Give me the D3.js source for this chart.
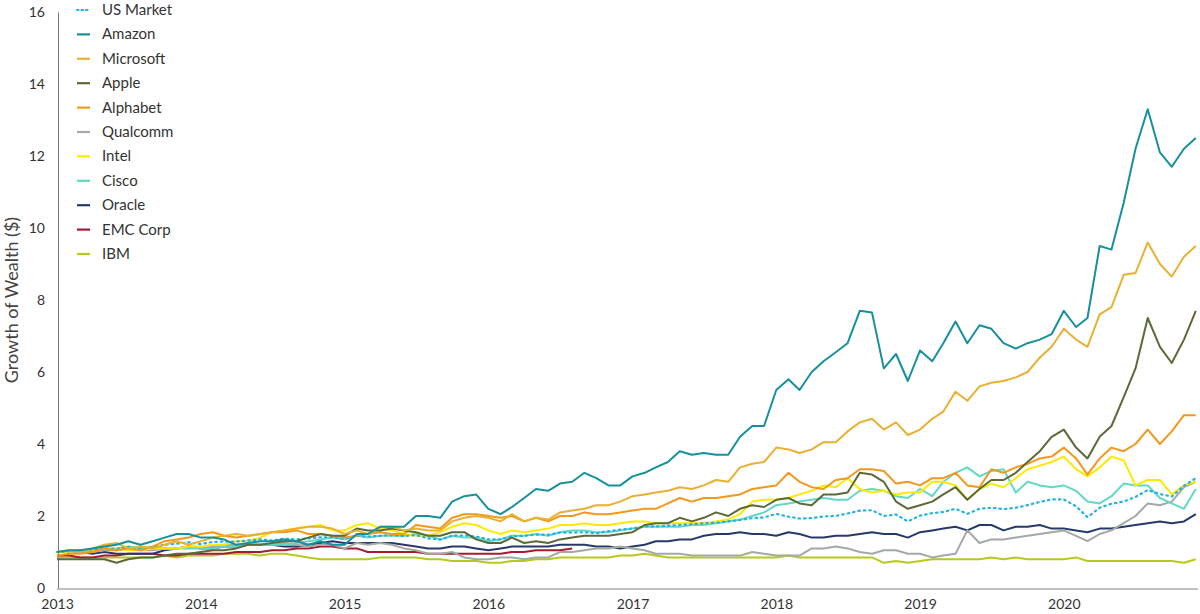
<!DOCTYPE html><html><head><meta charset="utf-8">
<script src="https://cdn.jsdelivr.net/npm/d3@7"></script>
<style>body{margin:0;background:#fff}svg{font-family:Lato,"Open Sans",sans-serif}</style></head><body>
<svg id="c" width="1200" height="614"></svg>
<script>
const yearTicks=[2013,2014,2015,2016,2017,2018,2019,2020];
const yTicks=[0,2,4,6,8,10,12,14,16];
const seriesNames=["US Market","Amazon","Microsoft","Apple","Alphabet","Qualcomm","Intel","Cisco","Oracle","EMC Corp","IBM"];
const seriesColors=["#22b4e3","#17909e","#e9b132","#5b6a37","#f3981c","#a3aaa3","#ffe900","#62d8c6","#263a6a","#a51c30","#b7c91d"];
const usMarket=[1.0,1.02,1.05,1.07,1.1,1.08,1.14,1.1,1.14,1.2,1.23,1.27,1.22,1.28,1.29,1.29,1.32,1.35,1.32,1.37,1.35,1.38,1.41,1.41,1.37,1.45,1.43,1.45,1.47,1.44,1.47,1.38,1.34,1.45,1.46,1.43,1.35,1.35,1.44,1.45,1.48,1.48,1.54,1.54,1.55,1.52,1.58,1.62,1.65,1.71,1.71,1.73,1.75,1.77,1.8,1.81,1.85,1.89,1.94,1.96,2.06,1.98,1.93,1.94,1.99,2.0,2.07,2.15,2.16,2.0,2.04,1.85,2.01,2.08,2.11,2.2,2.06,2.2,2.23,2.19,2.23,2.3,2.39,2.46,2.46,2.27,1.97,2.23,2.34,2.4,2.53,2.72,2.61,2.54,2.84,3.05];
const amazon=[1.0,1.05,1.05,1.1,1.15,1.2,1.3,1.2,1.3,1.4,1.5,1.5,1.4,1.4,1.35,1.2,1.25,1.3,1.3,1.35,1.3,1.2,1.3,1.2,1.2,1.5,1.5,1.7,1.7,1.7,2.0,2.0,1.95,2.4,2.55,2.6,2.2,2.05,2.25,2.5,2.75,2.7,2.9,2.95,3.2,3.05,2.85,2.85,3.1,3.2,3.35,3.5,3.8,3.7,3.75,3.7,3.7,4.2,4.5,4.5,5.5,5.8,5.5,6.0,6.3,6.55,6.8,7.7,7.65,6.1,6.5,5.75,6.6,6.3,6.8,7.4,6.8,7.3,7.2,6.8,6.65,6.8,6.9,7.05,7.7,7.25,7.5,9.5,9.4,10.7,12.2,13.3,12.1,11.7,12.2,12.5];
const microsoft=[1.0,1.05,1.0,1.1,1.2,1.25,1.1,1.15,1.1,1.2,1.3,1.2,1.3,1.4,1.45,1.5,1.45,1.5,1.55,1.6,1.65,1.7,1.7,1.65,1.5,1.6,1.5,1.7,1.7,1.6,1.65,1.6,1.6,1.85,1.95,2.0,1.95,1.85,2.05,1.85,1.95,1.9,2.1,2.15,2.2,2.3,2.3,2.4,2.55,2.6,2.65,2.7,2.8,2.75,2.85,3.0,2.95,3.35,3.45,3.5,3.9,3.85,3.75,3.85,4.05,4.05,4.35,4.6,4.7,4.4,4.6,4.25,4.4,4.7,4.9,5.45,5.2,5.6,5.7,5.75,5.85,6.0,6.4,6.7,7.2,6.9,6.7,7.6,7.8,8.7,8.75,9.6,9.0,8.65,9.2,9.5];
const apple=[0.8,0.8,0.8,0.8,0.8,0.7,0.8,0.85,0.85,0.9,0.95,0.95,1.0,1.05,1.05,1.1,1.2,1.2,1.25,1.3,1.3,1.4,1.5,1.45,1.45,1.65,1.6,1.6,1.65,1.6,1.55,1.45,1.45,1.55,1.55,1.35,1.25,1.25,1.4,1.25,1.3,1.25,1.35,1.4,1.45,1.45,1.45,1.5,1.55,1.75,1.8,1.8,1.95,1.85,1.95,2.1,2.0,2.2,2.3,2.25,2.45,2.5,2.35,2.3,2.6,2.6,2.65,3.2,3.15,2.95,2.4,2.2,2.3,2.4,2.6,2.8,2.45,2.75,3.0,3.0,3.2,3.5,3.8,4.2,4.4,3.9,3.6,4.2,4.5,5.3,6.1,7.5,6.7,6.25,6.9,7.7];
const alphabet=[0.9,0.95,0.95,1.0,1.1,1.05,1.1,1.05,1.15,1.3,1.35,1.4,1.5,1.55,1.45,1.4,1.45,1.5,1.55,1.55,1.6,1.5,1.5,1.45,1.4,1.45,1.5,1.55,1.5,1.5,1.75,1.7,1.65,1.95,2.05,2.05,2.0,1.95,2.0,1.85,1.95,1.85,2.0,2.0,2.1,2.05,2.05,2.1,2.15,2.2,2.2,2.35,2.5,2.4,2.5,2.5,2.55,2.6,2.75,2.8,2.85,3.2,2.95,2.8,2.75,3.0,3.05,3.3,3.3,3.25,2.9,2.95,2.85,3.05,3.05,3.2,2.85,2.8,3.3,3.2,3.35,3.45,3.6,3.65,3.9,3.6,3.15,3.6,3.9,3.8,4.0,4.4,4.0,4.35,4.8,4.8];
const qualcomm=[1.0,1.0,1.0,1.0,1.05,1.05,1.1,1.05,1.05,1.1,1.1,1.15,1.1,1.15,1.2,1.2,1.2,1.2,1.2,1.25,1.2,1.15,1.2,1.2,1.1,1.25,1.2,1.25,1.2,1.1,1.05,0.95,0.95,1.0,0.85,0.8,0.8,0.85,0.85,0.8,0.85,0.85,1.0,1.0,1.05,1.1,1.1,1.15,1.1,1.05,0.95,0.95,0.95,0.9,0.9,0.9,0.9,0.9,1.0,0.95,0.9,0.9,0.9,1.1,1.1,1.15,1.1,1.0,0.95,1.05,1.05,0.95,0.95,0.85,0.9,0.95,1.6,1.25,1.35,1.35,1.4,1.45,1.5,1.55,1.6,1.45,1.3,1.5,1.6,1.8,2.0,2.35,2.3,2.4,2.8,2.95];
const intel=[1.0,1.0,1.05,1.05,1.1,1.1,1.05,1.05,1.1,1.1,1.1,1.15,1.15,1.2,1.2,1.3,1.3,1.4,1.55,1.6,1.65,1.7,1.75,1.6,1.6,1.75,1.8,1.65,1.6,1.5,1.45,1.45,1.55,1.7,1.8,1.75,1.6,1.5,1.6,1.55,1.6,1.65,1.75,1.75,1.8,1.75,1.75,1.8,1.85,1.85,1.8,1.8,1.8,1.8,1.8,1.85,1.9,2.05,2.4,2.45,2.45,2.5,2.6,2.7,2.85,2.8,3.05,2.75,2.65,2.7,2.6,2.65,2.65,2.95,2.95,2.85,2.45,2.75,2.9,2.8,3.05,3.3,3.4,3.5,3.65,3.3,3.1,3.35,3.65,3.55,2.85,3.0,3.0,2.6,2.85,2.95];
const cisco=[1.0,1.0,1.05,1.05,1.1,1.1,1.15,1.1,1.15,1.1,1.1,1.1,1.1,1.1,1.15,1.15,1.2,1.2,1.2,1.2,1.25,1.3,1.35,1.4,1.35,1.45,1.4,1.45,1.45,1.45,1.5,1.45,1.35,1.45,1.4,1.4,1.3,1.35,1.45,1.45,1.5,1.45,1.55,1.6,1.6,1.55,1.55,1.6,1.65,1.7,1.7,1.7,1.7,1.75,1.75,1.8,1.85,1.9,2.0,2.1,2.3,2.35,2.4,2.45,2.5,2.45,2.45,2.7,2.75,2.7,2.55,2.5,2.75,2.55,2.95,3.2,3.35,3.1,3.25,3.3,2.65,2.95,2.85,2.8,2.85,2.7,2.4,2.35,2.55,2.9,2.85,2.85,2.5,2.35,2.2,2.75];
const oracle=[1.0,1.0,1.0,0.95,1.0,0.95,0.95,0.95,0.95,1.05,1.1,1.15,1.1,1.1,1.15,1.15,1.2,1.2,1.2,1.15,1.15,1.2,1.25,1.3,1.25,1.25,1.25,1.25,1.25,1.2,1.15,1.1,1.1,1.15,1.15,1.1,1.05,1.1,1.15,1.15,1.15,1.15,1.2,1.2,1.2,1.15,1.15,1.1,1.15,1.2,1.3,1.3,1.35,1.35,1.45,1.5,1.5,1.55,1.5,1.5,1.45,1.55,1.5,1.4,1.4,1.45,1.45,1.5,1.55,1.5,1.5,1.4,1.55,1.6,1.65,1.7,1.6,1.75,1.75,1.6,1.7,1.7,1.75,1.65,1.65,1.6,1.55,1.65,1.65,1.7,1.75,1.8,1.85,1.8,1.85,2.05];
const emc=[0.9,0.9,0.85,0.85,0.9,0.9,0.95,0.95,0.95,0.9,0.9,0.95,0.95,0.95,0.95,1.0,1.0,1.0,1.05,1.05,1.1,1.1,1.15,1.15,1.1,1.1,1.0,1.0,1.0,1.0,1.0,0.95,0.95,0.95,0.95,0.95,0.95,0.95,1.0,1.0,1.05,1.05,1.05,1.1];
const ibm=[0.85,0.85,0.85,0.85,0.85,0.85,0.85,0.85,0.85,0.9,0.85,0.9,0.9,0.9,0.95,0.95,0.95,0.9,0.95,0.95,0.9,0.85,0.8,0.8,0.8,0.8,0.8,0.85,0.85,0.85,0.85,0.8,0.8,0.75,0.75,0.75,0.7,0.7,0.75,0.75,0.8,0.8,0.85,0.85,0.85,0.85,0.85,0.9,0.9,0.95,0.9,0.85,0.85,0.85,0.85,0.85,0.85,0.85,0.85,0.85,0.85,0.9,0.85,0.85,0.85,0.85,0.85,0.85,0.85,0.7,0.75,0.7,0.75,0.8,0.8,0.8,0.8,0.8,0.85,0.8,0.85,0.8,0.8,0.8,0.8,0.85,0.75,0.75,0.75,0.75,0.75,0.75,0.75,0.75,0.7,0.8];
const seriesData=[usMarket,amazon,microsoft,apple,alphabet,qualcomm,intel,cisco,oracle,emc,ibm];
// draw order: back to front
const drawOrder=[10,9,8,5,7,6,0,4,3,2,1];

const svg=d3.select("#c");
const x=d3.scaleTime().domain([new Date(2013,0,1),new Date(2021,0,1)]).range([57,1208]);
const y=d3.scaleLinear().domain([0,16]).range([588,12]);
const dateOf=i=>new Date(2013,i,1);

// y axis
const ya=svg.append("g").attr("transform","translate(58,0)").call(d3.axisLeft(y).tickValues(yTicks).tickSize(0).tickPadding(13));
ya.select(".domain").attr("stroke","#777").attr("stroke-width",1);
ya.selectAll("text").attr("font-size",14).attr("fill","#333").attr("font-family","Lato,sans-serif");
// x axis
const xa=svg.append("g").attr("transform","translate(0,589)").call(d3.axisBottom(x).tickValues(yearTicks.map(v=>new Date(v,0,1))).tickFormat(d3.timeFormat("%Y")).tickSize(0).tickPadding(10));
xa.select(".domain").attr("stroke","#aaa").attr("stroke-width",1.5).attr("d","M57,0H1198");
xa.selectAll("text").attr("font-size",14).attr("fill","#333").attr("font-family","Lato,sans-serif");
svg.append("text").attr("transform","translate(18,300) rotate(-90)").attr("text-anchor","middle").attr("font-size",18).attr("fill","#444").text("Growth of Wealth ($)");

const line=d3.line().defined(d=>d!=null).x((d,i)=>x(dateOf(i))).y(d=>y(d));
drawOrder.forEach(k=>{
  svg.append("path").datum(seriesData[k]).attr("fill","none").attr("stroke",seriesColors[k])
   .attr("stroke-width",k===0?2.2:2).attr("stroke-linejoin","round")
   .attr("stroke-dasharray",k===0?"1.5,4":null).attr("stroke-linecap",k===0?"round":"butt")
   .attr("d",line);
});
// legend
const lg=svg.append("g");
seriesNames.forEach((n,k)=>{
  const yy=10+k*24.4;
  lg.append("line").attr("x1",77).attr("x2",90).attr("y1",yy).attr("y2",yy).attr("stroke",seriesColors[k]).attr("stroke-width",2.2)
    .attr("stroke-dasharray",k===0?"1.5,3":null).attr("stroke-linecap",k===0?"round":"butt");
  lg.append("text").attr("x",102).attr("y",yy+5).attr("font-size",15).attr("fill","#333").text(n);
});
</script></body></html>
